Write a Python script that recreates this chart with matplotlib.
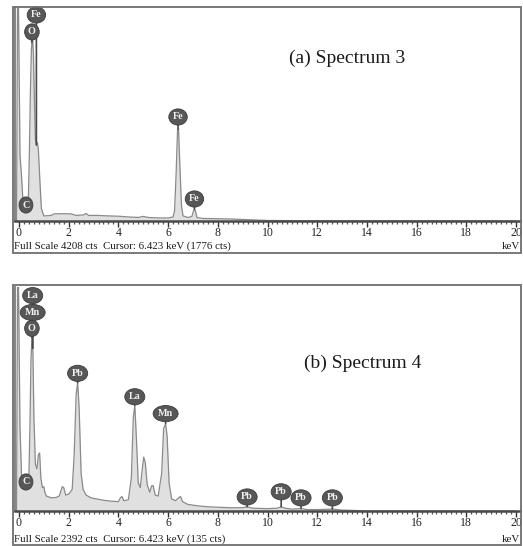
import numpy as np
import matplotlib
matplotlib.use("Agg")
import matplotlib.pyplot as plt
from matplotlib.patches import Rectangle
from matplotlib.ticker import MultipleLocator, FixedLocator

# ---------------- data ----------------
# Spectrum 3 : energy (keV) / counts
e3 = [-0.10, -0.06, -0.02, 0.04, 0.10, 0.16, 0.22, 0.28, 0.34, 0.38, 0.42, 0.46,
      0.50, 0.54, 0.58, 0.62, 0.66, 0.70, 0.74, 0.78, 0.84, 0.90, 1.00, 1.30,
      1.40, 1.80, 2.10, 2.30, 2.60, 2.70, 2.80, 3.20, 3.60, 4.00, 4.40, 4.80,
      5.00, 5.20, 5.60, 6.00, 6.20, 6.26, 6.32, 6.38, 6.42, 6.48, 6.54, 6.60,
      6.80, 6.96, 7.02, 7.06, 7.10, 7.16, 7.40, 8.00, 8.50, 9.00, 9.50, 10.0,
      12.0, 20.0]
c3 = [0, 4208, 4208, 1300, 900, 400, 280, 400, 420, 500, 1400, 2600,
      3400, 3650, 3300, 2400, 1600, 1500, 1550, 1400, 800, 250, 100, 110,
      140, 145, 140, 110, 120, 150, 110, 110, 100, 95, 80, 70,
      90, 70, 60, 60, 80, 200, 900, 1800, 1820, 1000, 300, 100,
      70, 90, 200, 230, 200, 70, 50, 45, 40, 30, 20, 10,
      5, 0]
fs3 = 4208
labels3 = ["Fe", "O", "C", "Fe", "Fe"]
lab_e3 = [0.70, 0.52, 0.28, 6.40, 7.06]
lab_y3 = [4070, 3735, 316, 2055, 435]

# Spectrum 4 : energy (keV) / counts
e4 = [-0.10, -0.06, -0.02, 0.04, 0.10, 0.16, 0.22, 0.28, 0.34, 0.40, 0.44, 0.48,
      0.52, 0.56, 0.60, 0.66, 0.72, 0.78, 0.83, 0.88, 0.94, 1.00, 1.04, 1.10,
      1.30, 1.50, 1.62, 1.74, 1.80, 1.88, 2.00, 2.14, 2.22, 2.30, 2.36, 2.42,
      2.50, 2.58, 2.70, 2.90, 3.10, 3.40, 3.70, 4.00, 4.08, 4.14, 4.22, 4.40,
      4.52, 4.60, 4.66, 4.72, 4.80, 4.88, 4.96, 5.02, 5.08, 5.16, 5.26, 5.34,
      5.40, 5.48, 5.60, 5.74, 5.82, 5.90, 5.96, 6.04, 6.14, 6.30, 6.42, 6.50,
      6.58, 6.80, 7.20, 7.60, 8.00, 8.50, 9.00, 9.18, 9.40, 10.00, 10.40, 10.55,
      10.70, 11.00, 11.35, 11.60, 12.00, 12.61, 13.00, 13.60, 14.00, 20.00]
c4 = [0, 2392, 2392, 900, 400, 250, 230, 320, 260, 400, 900, 1600,
      1850, 1700, 1000, 500, 450, 600, 620, 350, 250, 260, 200, 160,
      140, 145, 160, 260, 250, 170, 180, 230, 600, 1250, 1370, 1100,
      400, 230, 170, 140, 130, 115, 105, 100, 140, 155, 110, 120,
      350, 1000, 1130, 800, 300, 250, 450, 575, 520, 280, 200, 270,
      270, 170, 160, 400, 880, 935, 800, 300, 130, 110, 140, 155,
      100, 70, 55, 45, 40, 35, 35, 45, 30, 25, 30, 45,
      30, 20, 25, 15, 15, 20, 10, 5, 0, 0]
fs4 = 2392
labels4 = ["La", "Mn", "O", "C", "Pb", "La", "Mn", "Pb", "Pb", "Pb", "Pb"]
lab_e4 = [0.55, 0.55, 0.52, 0.28, 2.36, 4.66, 5.90, 9.18, 10.55, 11.35, 12.61]
lab_y4 = [2300, 2120, 1950, 310, 1470, 1220, 1040, 150, 205, 140, 140]

xticks = [0, 2, 4, 6, 8, 10, 12, 14, 16, 18, 20]
texts = ["(a) Spectrum 3", "(b) Spectrum 4"]
footers = ["Full Scale 4208 cts  Cursor: 6.423 keV (1776 cts)",
           "Full Scale 2392 cts  Cursor: 6.423 keV (135 cts)"]

# ---------------- layout helpers ----------------
W, H = 523, 546
fig = plt.figure(figsize=(W / 100, H / 100), dpi=100)
fig.patch.set_facecolor("white")
SERIF = ["Liberation Serif", "DejaVu Serif"]


def rect(x0, y0, x1, y1):
    return [x0 / W, 1 - y1 / H, (x1 - x0) / W, (y1 - y0) / H]


def fx(x):
    return x / W


def fy(y):
    return 1 - y / H


def panel(box, ax_px, e, c, fs, labels, lab_e, lab_y, title, title_xy, footer, foot_y):
    bx0, by0, bx1, by1 = box
    fig.patches.append(Rectangle((fx(bx0), fy(by1)), fx(bx1) - fx(bx0), fy(by0) - fy(by1),
                                 transform=fig.transFigure, fill=False,
                                 edgecolor="#6e6e6e", lw=1.3))
    ax = fig.add_axes(rect(*ax_px))
    x0, y0, x1, y1 = ax_px
    k = (516 - 19) / 20.0
    ax.set_xlim(-(19 - x0) / k, 20 + (x1 - 516) / k)
    ax.set_ylim(0, fs)
    ax.fill_between(e, c, 0, color="#e0e0e0", lw=0)
    ax.plot(e, c, color="#8a8a8a", lw=0.9)
    for s in ["top", "right"]:
        ax.spines[s].set_visible(False)
    ax.spines["left"].set_color("#6e6e6e")
    ax.spines["left"].set_linewidth(1.2)
    ax.spines["bottom"].set_color("#4a4a4a")
    ax.spines["bottom"].set_linewidth(1.8)
    ax.set_yticks([])
    ax.xaxis.set_major_locator(FixedLocator(xticks))
    ax.xaxis.set_minor_locator(MultipleLocator(0.2))
    ax.tick_params(axis="x", which="major", length=4, width=1.0, color="#333",
                   pad=0.5, labelsize=8.5, labelcolor="#222")
    ax.tick_params(axis="x", which="minor", length=2, width=0.9, color="#555")
    for t in ax.get_xticklabels():
        t.set_fontfamily(SERIF)
    ax.set_facecolor("none")
    for name, le, ly in zip(labels, lab_e, lab_y):
        py = min(float(np.interp(le, e, c)), fs)
        ax.annotate(name, xy=(le, min(py, ly)), xytext=(le, ly), textcoords="data",
                    ha="center", va="center", fontsize=7.3, color="#f0f0f0",
                    family=SERIF, fontweight="bold",
                    bbox=dict(boxstyle="ellipse,pad=0.12", fc="#575757", ec="#3c3c3c", lw=0.6),
                    arrowprops=dict(arrowstyle="-", color="#4a4a4a", lw=1.2,
                                    shrinkA=0, shrinkB=0),
                    annotation_clip=False)
    fig.text(fx(title_xy[0]), fy(title_xy[1]), title, ha="center", va="center",
             fontsize=14, family=SERIF, color="#1a1a1a")
    fig.text(fx(13.5), fy(foot_y), footer, ha="left", va="center",
             fontsize=7.8, family=SERIF, color="#1a1a1a")
    fig.text(fx(519.5), fy(foot_y), "keV", ha="right", va="center",
             fontsize=7.8, family=SERIF, color="#1a1a1a")
    return ax


panel((12.5, 7, 521, 253), (15, 8, 520, 221), e3, c3, fs3, labels3, lab_e3, lab_y3,
      texts[0], (347, 58), footers[0], 246.5)
panel((12.5, 285, 521, 545), (15, 287, 520, 511), e4, c4, fs4, labels4, lab_e4, lab_y4,
      texts[1], (363, 363), footers[1], 539)

fig.savefig("out.png", dpi=100, facecolor="white")
